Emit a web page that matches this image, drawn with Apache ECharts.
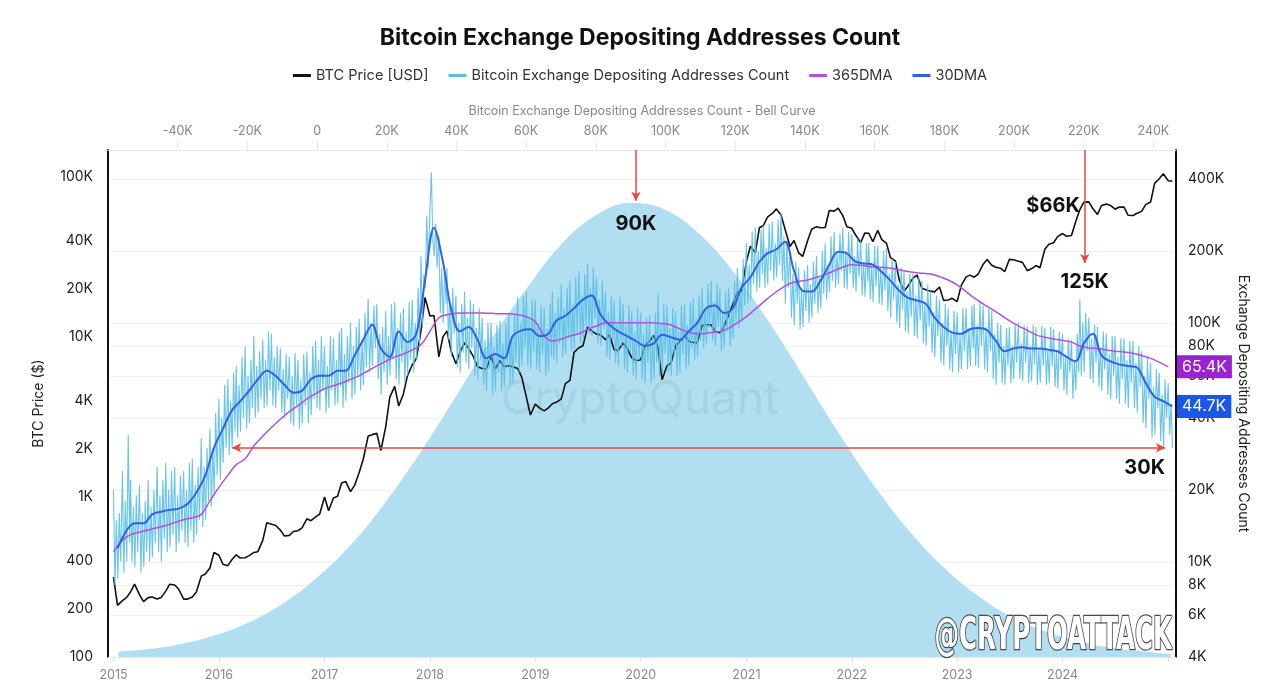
<!DOCTYPE html>
<html><head><meta charset="utf-8">
<script src="https://cdn.jsdelivr.net/npm/echarts@6/dist/echarts.min.js"></script>
<style>html,body{margin:0;padding:0;background:#fff}#c{width:1280px;height:686px}</style>
</head><body><div id="c"></div>
<script>
// ---- DATA ----
const firstYearLabel = 2015, lastYearLabel = 2024;
const leftTicks = [100,200,400,1000,2000,4000,10000,20000,40000,100000];
const rightTicks = [4000,6000,8000,10000,20000,40000,60000,80000,100000,200000,400000];

// BTC price (USD), points on the 1st and 15th of each month
const btc2015 = [315,210,225,235,255,285,245,222,235,237,230,235,258,285,282,265,230,230,237,255,320,330,360,450];
const btc2016 = [432,380,372,405,435,415,417,430,450,455,535,690,675,665,620,570,575,608,615,640,730,710,750,780];
const btc2017 = [1000,820,985,1010,1220,1250,1080,1180,1420,1720,2400,2450,2500,1950,2750,4200,4900,3700,4400,5700,6700,7300,10900,17600];
const btc2018 = [13500,13600,7500,10000,10900,8200,6800,8000,9200,8500,7500,6500,6350,6300,7600,6300,7100,6500,6600,6500,6350,5600,4200,3250];
const btc2019 = [3800,3600,3450,3600,3820,3900,4100,5100,5350,8000,8550,8800,11500,10900,10400,10300,9600,10300,8300,8200,9150,8500,7400,7100];
const btc2020 = [7200,8800,9400,10200,8600,5400,6600,6850,8800,9300,10200,9400,9230,9200,11800,11900,11900,10800,10600,11500,13800,16000,19000,19400];
const btc2021 = [29400,36800,33500,48000,49600,56000,59000,63000,57800,47000,36700,40000,33500,31800,39800,47000,48800,48000,48200,61600,61000,63600,57200,48800];
const btc2022 = [47700,43100,38700,44500,44400,39300,46300,40500,38500,31300,29800,22500,19300,20800,23300,24300,20100,19700,19300,19100,20500,16900,17000,17400];
const btc2023 = [16600,20900,23700,24300,23600,24700,28400,30400,28000,27200,26800,25600,30500,30300,29700,29200,25900,26600,27900,27000,35400,37900,38700,42300];
const btc2024 = [44200,42500,43000,52000,62400,69500,69700,63400,58200,66200,67500,66200,62700,64700,64600,57500,57300,59200,60800,67000,69500,91000,97200,104500];
const btc2025 = [94400,94000];

// Exchange depositing addresses (thousands), 6 points per month (days 1, 6, 11, 16, 21, 26)
const dep2015 = [20,8,15,8.5,16,10, 24,9,18,10,34,12, 22,10,17,9.5,19,11, 21,9,16,9.5,18,11, 22,10,17,10.5,20,12, 25,11,19,10,22,12.5,
                 26,11,20,11.5,24,13, 25,11,19,12,23,13.5, 24,12,20,11.5,26,13.5, 27,12,21,13,25,15, 33,14,25,15,30,18, 36,17,30,19,42,23];
const dep2016 = [48,22,40,26,55,30, 58,28,47,30,62,35, 66,33,55,35,72,40, 80,36,60,38,70,44, 88,40,66,42,76,48, 85,44,70,45,92,52,
                 90,45,72,44,80,52, 78,42,64,40,74,48, 72,38,60,37,75,45, 70,36,58,38,74,45, 76,38,62,41,80,48, 84,44,70,43,88,52];
const dep2017 = [80,42,66,44,88,52, 86,45,70,46,92,54, 95,44,74,47,88,56, 100,48,80,50,96,60, 104,52,85,55,110,65, 126,62,100,66,118,78,
                 120,58,90,50,96,62, 112,55,88,60,120,70, 122,58,95,55,110,68, 115,56,92,60,122,70, 125,62,100,70,140,82, 190,95,160,140,280,170];
const dep2018 = [300,425,220,190,260,170, 230,110,170,100,160,120, 170,85,120,72,140,90, 130,65,100,62,120,75, 135,68,105,64,125,78, 120,60,95,58,115,70,
                 105,55,85,52,100,64, 100,50,80,52,98,62, 102,52,82,54,100,65, 110,55,88,56,108,68, 128,62,100,66,130,78, 135,66,105,64,125,76];
const dep2019 = [125,64,100,62,118,74, 115,60,95,63,120,72, 135,70,110,68,128,82, 145,72,115,74,140,86, 150,76,120,78,155,90, 165,82,130,84,160,96,
                 177,90,140,88,170,104, 155,82,125,80,150,94, 135,72,110,70,130,84, 125,68,100,66,128,80, 120,64,98,62,118,75, 112,60,92,58,115,70];
const dep2020 = [110,58,90,56,105,68, 108,56,88,58,110,68, 133,60,100,62,120,74, 118,62,95,60,115,72, 112,60,92,62,118,74, 120,64,98,66,122,78,
                 126,70,104,72,130,84, 140,78,115,82,145,95, 150,84,122,80,145,96, 140,76,112,78,135,92, 140,80,115,86,150,100, 170,95,140,100,185,118];
const dep2021 = [215,120,175,125,240,145, 250,135,200,140,245,160, 255,140,205,145,260,165, 265,150,215,155,270,175, 290,150,230,120,220,140, 200,105,160,98,180,120,
                 170,94,140,96,165,112, 175,100,145,105,180,120, 190,110,155,115,200,132, 215,125,175,135,230,150, 240,140,195,145,235,165, 250,140,200,138,240,160];
const dep2022 = [235,140,190,135,225,155, 220,130,180,128,215,148, 215,125,175,122,210,142, 210,120,170,118,200,136, 205,112,160,105,185,125, 180,100,145,95,170,114,
                 165,92,135,90,160,106, 160,88,130,86,155,102, 150,82,120,80,145,96, 135,75,110,72,130,88, 125,68,100,66,120,80, 115,64,92,62,112,74];
const dep2023 = [110,62,90,64,115,76, 115,64,95,66,118,78, 120,66,98,65,122,80, 118,64,96,62,115,76, 112,58,90,55,100,68, 98,56,80,55,95,66,
                 96,56,80,58,98,68, 100,58,82,57,98,68, 97,56,80,57,98,67, 96,55,78,56,97,66, 95,55,78,56,96,66, 94,54,76,53,92,64];
const dep2024 = [90,52,74,50,86,62, 85,48,70,52,90,62, 125,60,100,62,110,76, 105,58,86,56,98,68, 96,54,78,52,92,64, 90,50,74,48,88,60,
                 88,48,72,46,86,58, 86,46,70,44,84,56, 84,44,68,42,80,54, 76,38,60,36,72,48, 68,33,54,34,64,44, 62,32,50,30,58,40];
const dep2025 = [56,34,46,30];

// 30DMA (thousands), mid-month
const ma30 = [
 11.4,13.5,14.5,14.5,15.8,16.2,16.5,16.7,17.5,19.5,23,30,
 36,43,47,52,58,63,60,55,51,52,58,60,
 60,63,63,73,85,98,78,72,92,83,90,150,
 250,180,115,92,96,85,71,74,71,88,93,94,
 88,90,102,107,115,125,130,108,98,92,88,84,
 80,82,89,87,85,92,100,115,118,110,115,140,
 155,180,195,203,218,165,136,135,150,175,198,195,
 180,177,175,163,150,136,127,124,120,105,96,91,
 90,94,95,93,84,76,78,79,78,78,77,76,
 72,69,82,90,73,69,67,66,65,56,49,47,
 44.7];

// 365DMA (thousands), 1st of month
const ma365 = [
 11,12.3,13,13.3,13.6,13.9,14.2,14.6,15,15.3,15.8,18,
 20.5,23,25.5,27,30.5,33.5,36.5,39.5,42.5,45,48,50.5,
 53,54.5,56,58,60,63,66,69,72,74,77,81,
 92,105,108,109.5,110,110,110,109.5,109,109,108,106,
 101,88,84,85.5,88,90,94,97,100,100,100,100,
 100,100,99.5,99,96,92.5,90.5,90,91,92,95,100,
 106,114,122,131,139,146,149,151,155,159,165,171,
 175,174,172,171,170,168,165,162.5,161,160,156,151,
 144,135,127,120,114,108,102,97,93,89,87,85.5,
 84.5,83,80,78.5,78,77,76,75.5,74.5,73,71,68.5,
 65.4];

// Bell curve: addresses count (thousands) vs relative frequency (% of peak)
const bellX = [-57,-50,-40,-30,-20,-10,0,10,20,30,40,50,60,70,80,90,100,110,120,130,140,150,160,170,180,190,200,210,220,230,240,245];
const bellY = [1.2,1.6,2.7,4.6,7.5,11.7,17.5,25,34.5,45.5,57.6,70,81,90.8,97.3,100,98.5,93,84.4,73.4,61.3,49,37.6,27.7,19.6,13.3,8.6,5.4,3.2,1.8,1.0,0.7];

// annotations
const last365 = 65400, last30 = 44700, bottomLevel = 30000, priceAtSpike = 66000, bellPeak = 91500;

// ---- BUILD ----
const fmtK = v => v === 0 ? '0' : (Math.abs(v) >= 1000 ? (v/1000) + 'K' : String(v));
const btcYears = [btc2015,btc2016,btc2017,btc2018,btc2019,btc2020,btc2021,btc2022,btc2023,btc2024,btc2025];
const depYears = [dep2015,dep2016,dep2017,dep2018,dep2019,dep2020,dep2021,dep2022,dep2023,dep2024,dep2025];
const btcData = [];
btcYears.forEach((arr, yi) => arr.forEach((v, j) => btcData.push([Date.UTC(2015 + yi, Math.floor(j/2), j % 2 ? 15 : 1), v])));
const depDays = [1, 6, 11, 16, 21, 26];
const depData = [];
depYears.forEach((arr, yi) => arr.forEach((v, j) => depData.push([Date.UTC(2015 + yi, Math.floor(j/6), depDays[j % 6]), v * 1000])));
const ma30Data = ma30.map((v, i) => [Date.UTC(2015, i, 15), v * 1000]);
const ma365Data = ma365.map((v, i) => [Date.UTC(2015, i, 1), v * 1000]);
const bellData = bellX.map((x, i) => [x * 1000, bellY[i]]);
const BELL_MAX = 111.7, RIGHT_MAX = 528000;
const tSpike = Date.UTC(2024, 2, 18);
const YEAR_MS = 365 * 24 * 3600 * 1000;

const font = 'Inter, "Noto Sans", sans-serif';
const annLabel = { fontSize: 20, fontWeight: 'bold', color: '#111', fontFamily: font };
const red = '#e8473e';
const hiddenLine = { color: 'rgba(0,0,0,0)', width: 0 };

const chart = echarts.init(document.getElementById('c'));
chart.setOption({
  animation: false,
  useUTC: true,
  textStyle: { fontFamily: font },
  title: { text: 'Bitcoin Exchange Depositing Addresses Count', left: 'center', top: 22,
    textStyle: { fontSize: 23, fontWeight: 'bold', color: '#111', fontFamily: font } },
  legend: { top: 63, left: 'center', icon: 'rect', itemWidth: 18, itemHeight: 3, itemGap: 20,
    textStyle: { fontSize: 14.5, color: '#333' },
    data: ['BTC Price [USD]', 'Bitcoin Exchange Depositing Addresses Count', '365DMA', '30DMA'] },
  grid: { left: 108, right: 104, top: 150, bottom: 29 },
  xAxis: [
    { type: 'time', min: Date.UTC(2014, 11, 13), max: Date.UTC(2025, 0, 28),
      minInterval: YEAR_MS, maxInterval: YEAR_MS * 1.01,
      axisLine: { show: true, lineStyle: { color: '#e8e8e8' } },
      axisTick: { show: true, length: 4, lineStyle: { color: '#e0e0e0' } },
      axisLabel: { color: '#888', fontSize: 12.5, margin: 12, showMinLabel: false, showMaxLabel: false,
        formatter: v => { const d = new Date(v); const y = d.getUTCFullYear();
          return (d.getUTCMonth() === 0 && d.getUTCDate() === 1 && y >= firstYearLabel && y <= lastYearLabel) ? String(y) : ''; } },
      splitLine: { show: false } },
    { type: 'value', position: 'top', min: -60000, max: 246500, interval: 20000,
      name: 'Bitcoin Exchange Depositing Addresses Count - Bell Curve', nameLocation: 'middle', nameGap: 32,
      nameTextStyle: { color: '#888', fontSize: 12.5 },
      axisLine: { show: true, lineStyle: { color: '#e8e8e8' } },
      axisTick: { show: true, length: 8, lineStyle: { color: '#e8e8e8' } },
      axisLabel: { color: '#888', fontSize: 12.5, margin: 12, showMinLabel: false, showMaxLabel: false, formatter: fmtK },
      splitLine: { show: false } }
  ],
  yAxis: [
    { type: 'log', min: 100, max: 147000, position: 'left',
      name: 'BTC Price ($)', nameLocation: 'middle', nameGap: 62, nameTextStyle: { fontSize: 14, color: '#222' },
      axisLine: { show: true, onZero: false, lineStyle: { color: '#111', width: 2 } },
      axisTick: { show: false, customValues: leftTicks },
      axisLabel: { color: '#222', fontSize: 14, margin: 15, customValues: leftTicks, formatter: fmtK },
      splitLine: { show: false } },
    { type: 'log', min: 4000, max: RIGHT_MAX, position: 'right',
      name: 'Exchange Depositing Addresses Count', nameLocation: 'middle', nameGap: 60, nameRotate: -90,
      nameTextStyle: { fontSize: 14, color: '#222' },
      axisLine: { show: true, onZero: false, lineStyle: { color: '#111', width: 2 } },
      axisTick: { show: false, customValues: rightTicks },
      axisLabel: { color: '#222', fontSize: 14, margin: 12, customValues: rightTicks, formatter: fmtK },
      splitLine: { show: true, lineStyle: { color: '#f1f1f1' } } },
    { type: 'value', min: 0, max: BELL_MAX, show: false, axisLine: { onZero: false } }
  ],
  series: [
    { name: 'Bell', type: 'line', xAxisIndex: 1, yAxisIndex: 2, data: bellData, smooth: 0.4, symbol: 'none', silent: true, z: 1,
      lineStyle: { width: 0 }, areaStyle: { color: '#b1dff1', opacity: 1 },
      markLine: { silent: true, symbol: ['none', 'arrow'], symbolSize: [7, 9],
        lineStyle: { color: red, width: 1.5, type: 'solid' },
        label: Object.assign({ show: true, position: 'end', distance: 13, formatter: '90K' }, annLabel),
        data: [[{ coord: [bellPeak, BELL_MAX] }, { coord: [bellPeak, 100.5] }]] } },
    { name: 'BTC Price [USD]', type: 'line', xAxisIndex: 0, yAxisIndex: 0, data: btcData, symbol: 'none', z: 3,
      itemStyle: { color: '#111' }, lineStyle: { color: '#111', width: 1.6 },
      markPoint: { silent: true, symbol: 'circle', symbolSize: 0,
        label: Object.assign({ show: true, position: 'left', distance: 5, formatter: '$66K' }, annLabel),
        data: [{ coord: [tSpike, priceAtSpike] }] } },
    { name: 'Bitcoin Exchange Depositing Addresses Count', type: 'line', xAxisIndex: 0, yAxisIndex: 1, data: depData,
      symbol: 'none', z: 4, itemStyle: { color: '#5bbfe6' }, lineStyle: { color: '#5bbfe6', width: 1.1, opacity: 0.92 },
      markLine: { silent: true, symbol: ['arrow', 'arrow'], symbolSize: [7, 9], z: 10,
        lineStyle: { color: red, width: 1.5, type: 'solid' },
        data: [
          [{ coord: [Date.UTC(2016, 1, 16), bottomLevel],
             label: Object.assign({ show: true, position: 'insideEndBottom', distance: [0, 10], formatter: '30K' }, annLabel) },
           { coord: [Date.UTC(2024, 11, 21), bottomLevel] }],
          [{ coord: [tSpike, RIGHT_MAX], symbol: 'none',
             label: Object.assign({ show: true, position: 'end', distance: 9, formatter: '125K' }, annLabel) },
           { coord: [tSpike, 178000], symbol: 'arrow' }]
        ] } },
    { name: '365DMA', type: 'line', xAxisIndex: 0, yAxisIndex: 1, data: ma365Data, symbol: 'none', smooth: 0.4, z: 5,
      itemStyle: { color: '#b44fe4' }, lineStyle: { color: '#b44fe4', width: 1.5 },
      markLine: { silent: true, symbol: 'none', z: 12, lineStyle: hiddenLine,
        label: { show: true, position: 'end', distance: 1, formatter: '65.4K', color: '#fff', fontSize: 16,
          backgroundColor: '#9b22d4', padding: [4, 5, 3, 5] },
        data: [{ yAxis: last365 }] } },
    { name: '30DMA', type: 'line', xAxisIndex: 0, yAxisIndex: 1, data: ma30Data, symbol: 'none', smooth: 0.35, z: 6,
      itemStyle: { color: '#2f62e8' }, lineStyle: { color: '#2f62e8', width: 2 },
      markLine: { silent: true, symbol: 'none', z: 12, lineStyle: hiddenLine,
        label: { show: true, position: 'end', distance: 1, formatter: '44.7K', color: '#fff', fontSize: 16,
          backgroundColor: '#1a56e8', padding: [4, 5, 3, 5] },
        data: [{ yAxis: last30 }] } }
  ],
  graphic: [
    { type: 'text', x: 640, y: 400, z: 2, silent: true,
      style: { text: 'CryptoQuant', fontSize: 46, fontFamily: font, fill: 'rgba(100,120,140,0.13)', align: 'center', verticalAlign: 'middle' } },
    { type: 'text', x: 1172, y: 660, z: 20, scaleX: 0.62, silent: true,
      style: { text: '@CRYPTOATTACK', fontSize: 44, fontWeight: 'bold', fontFamily: '"DejaVu Sans Condensed", "DejaVu Sans", sans-serif',
        fill: '#ffffff', stroke: '#4a4a4a', lineWidth: 2.5, align: 'right', verticalAlign: 'bottom',
        shadowColor: 'rgba(0,0,0,0.45)', shadowOffsetX: 2, shadowOffsetY: 2, shadowBlur: 1 } }
  ]
});
</script></body></html>
